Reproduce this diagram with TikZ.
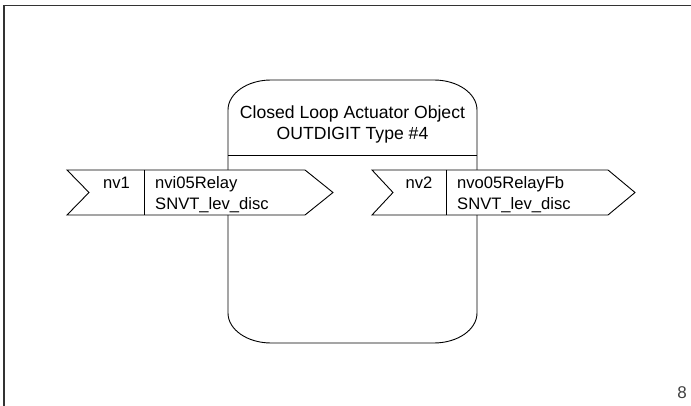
\documentclass[tikz,border=0pt]{standalone}
\usepackage{fontspec}
\setmainfont{Liberation Sans}
\begin{document}
\begin{tikzpicture}[x=1pt,y=-1pt,
  outline/.style={draw=black,line width=0.9pt},
  nvshape/.style={outline,fill=white,line join=miter},
  titletext/.style={inner sep=0pt,font=\fontsize{17.6}{21}\selectfont},
  nvtext/.style={inner sep=0pt,font=\fontsize{16.6}{21}\selectfont},
  pagenum/.style={inner sep=0pt,text=black!75,font=\fontsize{17}{20}\selectfont}]
\useasboundingbox (0,0) rectangle (691,406);

% page frame (left and top edges)
\draw[black!80,line width=1.2pt] (4,406) -- (4,5.5) -- (691,5.5);

% functional block outline with elliptical corners
\draw[outline] (228,110)
  arc[start angle=180,end angle=270,x radius=43,y radius=30] -- (434,80)
  arc[start angle=270,end angle=360,x radius=43,y radius=30] -- (477,313)
  arc[start angle=0,end angle=90,x radius=43,y radius=30] -- (271,343)
  arc[start angle=90,end angle=180,x radius=43,y radius=30] -- cycle;
\coordinate (divL) at (228,155);
\coordinate (divR) at (477,155);
\draw[outline] (divL) -- (divR);

\node[titletext,anchor=base] (title1) at (352.5,118.5) {Closed Loop Actuator Object};
\node[titletext,anchor=base] (title2) at (352.5,139.5) {OUTDIGIT Type \#4};

% input network variable
\draw[nvshape] (67,170) -- (305,170) -- (333,192.5) -- (305,215) -- (67,215) -- (89,192.5) -- cycle;
\coordinate (d1t) at (144,170);
\coordinate (d1b) at (144,215);
\draw[outline] (d1t) -- (d1b);
\node[nvtext,anchor=base] (nv1) at (116.5,188.5) {nv1};
\node[nvtext,anchor=base west] (nv1name) at (155,188.5) {nvi05Relay};
\node[nvtext,anchor=base west] (nv1type) at (155,209.5) {SNVT\_lev\_disc};

% output network variable
\draw[nvshape] (372,170) -- (608,170) -- (635,192.5) -- (608,215) -- (372,215) -- (393,192.5) -- cycle;
\coordinate (d2t) at (446,170);
\coordinate (d2b) at (446,215);
\draw[outline] (d2t) -- (d2b);
\node[nvtext,anchor=base] (nv2) at (419,188.5) {nv2};
\node[nvtext,anchor=base west] (nv2name) at (457,188.5) {nvo05RelayFb};
\node[nvtext,anchor=base west] (nv2type) at (457,209.5) {SNVT\_lev\_disc};

% page number
\node[pagenum,anchor=base] (page) at (682,398) {8};
\end{tikzpicture}
\end{document}
